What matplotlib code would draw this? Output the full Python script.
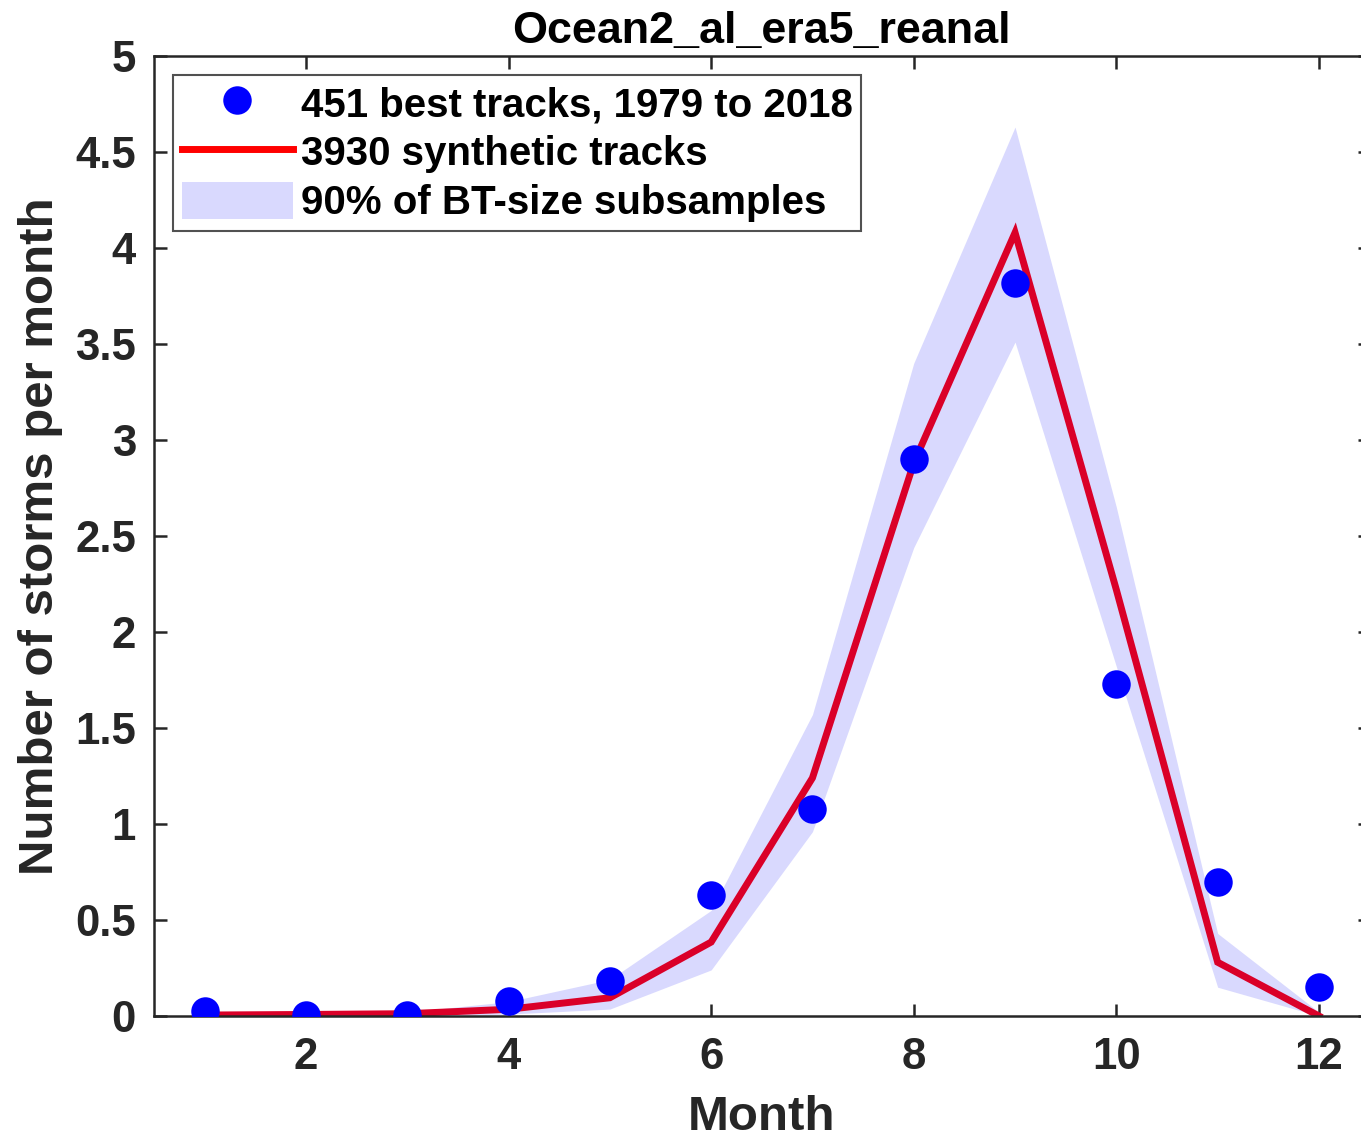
import matplotlib
matplotlib.use("Agg")
import matplotlib.pyplot as plt
from matplotlib.lines import Line2D
from matplotlib.patches import Patch

plt.rcParams['font.family'] = ['Liberation Sans', 'DejaVu Sans']
plt.rcParams['font.weight'] = 'bold'

# Monthly storm counts
months = [1, 2, 3, 4, 5, 6, 7, 8, 9, 10, 11, 12]
best_tracks = [0.028, 0.005, 0.005, 0.08, 0.18, 0.63, 1.08, 2.90, 3.82, 1.73, 0.70, 0.153]
synthetic = [0.005, 0.008, 0.012, 0.035, 0.095, 0.385, 1.24, 2.88, 4.08, 2.22, 0.28, 0.0]
band_low = [0.0, 0.0, 0.0, 0.01, 0.036, 0.24, 0.96, 2.44, 3.51, 1.82, 0.15, 0.0]
band_high = [0.01, 0.015, 0.02, 0.075, 0.19, 0.55, 1.57, 3.40, 4.63, 2.65, 0.43, 0.02]

x_ticks = [2, 4, 6, 8, 10, 12]
y_ticks = [0, 0.5, 1, 1.5, 2, 2.5, 3, 3.5, 4, 4.5, 5]
y_tick_labels = ['0', '0.5', '1', '1.5', '2', '2.5', '3', '3.5', '4', '4.5', '5']

title = 'Ocean2_al_era5_reanal'
legend_labels = ['451 best tracks, 1979 to 2018',
                 '3930 synthetic tracks',
                 '90% of BT-size subsamples']

axis_color = '#262626'
band_color = '#D9D9FE'
line_color = '#DA0028'
dot_color = '#0000FF'

fig = plt.figure(figsize=(13.61, 11.37), dpi=100)
ax = fig.add_axes([154 / 1361, 121 / 1137, (1369.6 - 154) / 1361, 960 / 1137])

ax.fill_between(months, band_low, band_high, color=band_color, linewidth=0, zorder=1)
ax.plot(months, synthetic, color=line_color, linewidth=5, solid_joinstyle='miter', zorder=2)
ax.plot(months, best_tracks, linestyle='none', marker='o', markersize=20.5,
        color=dot_color, markeredgewidth=0, zorder=3)

ax.set_xlim(0.5, 12.5)
ax.set_ylim(0, 5)
ax.set_xticks(x_ticks)
ax.set_yticks(y_ticks)
ax.set_yticklabels(y_tick_labels)

for side in ['left', 'bottom', 'top', 'right']:
    ax.spines[side].set_color(axis_color)
    ax.spines[side].set_linewidth(1.8)

ax.tick_params(axis='both', which='both', direction='in', length=9, width=1.8,
               color=axis_color, labelcolor=axis_color, labelsize=31.5,
               top=True, right=True)
ax.tick_params(axis='y', pad=13)
ax.tick_params(axis='x', pad=15)
for lbl in ax.get_xticklabels() + ax.get_yticklabels():
    lbl.set_fontweight('bold')

ax.set_xlabel('Month', fontsize=35.5, fontweight='bold', color=axis_color, labelpad=12)
ax.set_ylabel('Number of storms per month', fontsize=35.5, fontweight='bold',
              color=axis_color, labelpad=9)
ax.set_title(title, fontsize=32.3, fontweight='bold', color='black', pad=9)

handles = [
    Line2D([], [], linestyle='none', marker='o', markersize=20.5, color=dot_color,
           markeredgewidth=0),
    Line2D([], [], color='red', linewidth=5),
    Patch(facecolor=band_color, edgecolor='none'),
]
leg = ax.legend(handles, legend_labels, loc='upper left',
                bbox_to_anchor=((173 - 154) / (1369.6 - 154), 1 - (75 - 56) / 960),
                borderaxespad=0, frameon=True, fancybox=False,
                handlelength=2.75, handleheight=1.05, handletextpad=0.2,
                labelspacing=0.21, borderpad=0.22, prop={'weight': 'bold', 'size': 29})
leg.get_frame().set_edgecolor(axis_color)
leg.get_frame().set_linewidth(1.5)

fig.savefig('out.png', dpi=100)
